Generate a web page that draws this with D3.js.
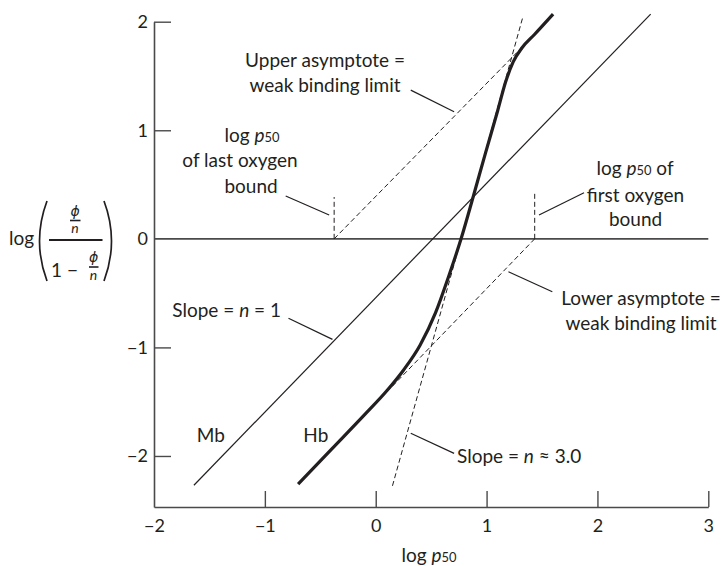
<!DOCTYPE html>
<html>
<head>
<meta charset="utf-8">
<script src="https://cdn.jsdelivr.net/npm/d3@7"></script>
<style>
  html, body { margin: 0; padding: 0; background: #fff; }
  svg { display: block; }
  text { font-family: Lato, "Open Sans", "DejaVu Sans", sans-serif; fill: #231f20; }
</style>
</head>
<body>
<svg id="chart" width="727" height="566"></svg>
<script>
// ---------- data ----------
const xTicks = [-2, -1, 0, 1, 2, 3];
const yTicks = [-2, -1, 0, 1, 2];

// Myoglobin Hill plot (straight line, slope ~1)
const mbX = [-1.64, 2.48];
const mbY = [-2.27, 2.07];

// Hemoglobin Hill plot (sigmoidal)
const hbX = [-0.70, -0.40, -0.10, 0.10, 0.25, 0.40, 0.54, 0.66, 0.77, 0.88, 0.99, 1.10, 1.17, 1.24, 1.32, 1.43, 1.60];
const hbY = [-2.26, -1.94, -1.62, -1.40, -1.21, -0.98, -0.68, -0.34, 0.00, 0.39, 0.79, 1.18, 1.44, 1.63, 1.76, 1.88, 2.07];

// dashed construction lines
const upperAsymX = [-0.375, 1.443];
const upperAsymY = [0, 1.893];
const lowerAsymX = [1.434, 0.12];
const lowerAsymY = [0, -1.39];
const tangentX = [0.151, 1.329];
const tangentY = [-2.275, 2.05];
const lastO2X = [-0.375, -0.375];
const lastO2Y = [0, 0.385];
const firstO2X = [1.434, 1.434];
const firstO2Y = [0, 0.42];

// ---------- layout ----------
const svg = d3.select("#chart");
const x = d3.scaleLinear().domain([-2, 3]).range([154, 708.3]);
const y = d3.scaleLinear().domain([-2.47, 2]).range([507, 21.7]);

const ink = "#231f20";
const axisInk = "#4a4a4a";

const zip = (xs, ys) => xs.map((v, i) => [v, ys[i]]);
const line = d3.line().x(d => x(d[0])).y(d => y(d[1]));
const fmt = d3.format("d");

// ---------- axes ----------
const gx = svg.append("g").attr("transform", `translate(0,${y(-2.47)})`)
  .call(d3.axisBottom(x).tickValues(xTicks).tickFormat(fmt).tickSize(-16).tickSizeOuter(0).tickPadding(12));
const gy = svg.append("g").attr("transform", `translate(${x(-2)},0)`)
  .call(d3.axisLeft(y).tickValues(yTicks).tickFormat(fmt).tickSize(-17).tickSizeOuter(0).tickPadding(6));
[gx, gy].forEach(g => {
  g.select(".domain").attr("stroke", axisInk).attr("stroke-width", 1.6);
  g.selectAll(".tick line").attr("stroke", axisInk).attr("stroke-width", 1.4);
  g.selectAll(".tick text").attr("fill", ink).style("font-size", "18px")
    .style("font-family", "Lato, 'Open Sans', sans-serif");
});
gy.selectAll(".tick").filter(d => d === 0).select("line").remove();
gx.selectAll(".tick").filter(d => d === -2).select("line").remove();

// zero line
svg.append("path").attr("d", line([[-2, 0], [3, 0]]))
  .attr("stroke", axisInk).attr("stroke-width", 1.6).attr("fill", "none");

// ---------- dashed lines ----------
const dashed = [
  zip(upperAsymX, upperAsymY), zip(lowerAsymX, lowerAsymY),
  zip(tangentX, tangentY), zip(lastO2X, lastO2Y), zip(firstO2X, firstO2Y)
];
svg.selectAll(".dash").data(dashed).join("path").attr("class", "dash")
  .attr("d", line).attr("fill", "none").attr("stroke", ink)
  .attr("stroke-width", 1).attr("stroke-dasharray", "5,3");

// ---------- Mb and Hb ----------
svg.append("path").attr("d", line(zip(mbX, mbY)))
  .attr("fill", "none").attr("stroke", ink).attr("stroke-width", 1.2);
const smooth = d3.line().x(d => x(d[0])).y(d => y(d[1])).curve(d3.curveMonotoneX);
svg.append("path").attr("d", smooth(zip(hbX, hbY)))
  .attr("fill", "none").attr("stroke", ink).attr("stroke-width", 3.2)
  .attr("stroke-linecap", "butt");

// ---------- leader lines (data coords) ----------
const leaders = [
  [[0.316, 1.370], [0.707, 1.171]],
  [[-0.812, 0.394], [-0.420, 0.219]],
  [[1.473, 0.219], [1.879, 0.425]],
  [[-0.787, -0.732], [-0.390, -0.926]],
  [[1.197, -0.303], [1.593, -0.487]],
  [[0.316, -1.791], [0.707, -1.976]]
];
svg.selectAll(".leader").data(leaders).join("path").attr("class", "leader")
  .attr("d", line).attr("fill", "none").attr("stroke", ink).attr("stroke-width", 1.2);

// ---------- annotation text ----------
const fs = 19;
function label(px, py, anchor, parts, size) {
  const t = svg.append("text").attr("x", px).attr("y", py)
    .attr("text-anchor", anchor).style("font-size", (size || fs) + "px");
  parts.forEach(p => {
    const s = t.append("tspan").text(p.t);
    if (p.i) s.style("font-style", "italic");
    if (p.sub) s.style("font-size", ((size || fs) * 0.68) + "px");
  });
  return t;
}
const logp = (extra) => [{t: "log "}, {t: "p", i: true}, {t: "50", sub: true}].concat(extra || []);

label(325, 66.7, "middle", [{t: "Upper asymptote ="}]);
label(325, 91.7, "middle", [{t: "weak binding limit"}]);

label(252, 141.7, "middle", logp());
label(240, 166.7, "middle", [{t: "of last oxygen"}]);
label(251, 192.7, "middle", [{t: "bound"}]);

label(635, 175, "middle", logp([{t: " of"}]));
label(635.5, 201.7, "middle", [{t: "first oxygen"}]);
label(635.5, 226, "middle", [{t: "bound"}]);

label(641, 305, "middle", [{t: "Lower asymptote ="}]);
label(641, 330, "middle", [{t: "weak binding limit"}]);

label(281, 316.7, "end", [{t: "Slope = "}, {t: "n", i: true}, {t: " = 1"}]);
label(457, 463.3, "start", [{t: "Slope = "}, {t: "n", i: true}, {t: " ≈ 3.0"}]);

label(196.7, 441.7, "start", [{t: "Mb"}]);
label(303.3, 441.7, "start", [{t: "Hb"}]);

// x-axis title
label(429, 561.7, "middle", logp());

// ---------- y-axis title: log( (φ/n) / (1 − φ/n) ) ----------
const yl = svg.append("g");
yl.append("text").attr("x", 9).attr("y", 245).style("font-size", "19px").text("log");
// parentheses
yl.append("path").attr("d", "M47,201 Q32,241 47,281").attr("fill", "none")
  .attr("stroke", ink).attr("stroke-width", 1.7);
yl.append("path").attr("d", "M104,201 Q119,241 104,281").attr("fill", "none")
  .attr("stroke", ink).attr("stroke-width", 1.7);
// main bar
yl.append("line").attr("x1", 49).attr("x2", 102.5).attr("y1", 240).attr("y2", 240)
  .attr("stroke", ink).attr("stroke-width", 1.8);
const fracFont = "14px";
const phiFont = "'DejaVu Sans', Lato, sans-serif";
// numerator φ/n
yl.append("text").attr("x", 75).attr("y", 216).attr("text-anchor", "middle")
  .style("font-size", fracFont).style("font-style", "italic").style("font-family", phiFont).text("ϕ");
yl.append("line").attr("x1", 70).attr("x2", 80.5).attr("y1", 220.5).attr("y2", 220.5)
  .attr("stroke", ink).attr("stroke-width", 1.6);
yl.append("text").attr("x", 75).attr("y", 233).attr("text-anchor", "middle")
  .style("font-size", fracFont).style("font-style", "italic").text("n");
// denominator 1 − φ/n
yl.append("text").attr("x", 51).attr("y", 276.5).style("font-size", "19px").text("1 −");
yl.append("text").attr("x", 93.5).attr("y", 262).attr("text-anchor", "middle")
  .style("font-size", fracFont).style("font-style", "italic").style("font-family", phiFont).text("ϕ");
yl.append("line").attr("x1", 89).attr("x2", 98.5).attr("y1", 267).attr("y2", 267)
  .attr("stroke", ink).attr("stroke-width", 1.6);
yl.append("text").attr("x", 93.5).attr("y", 280).attr("text-anchor", "middle")
  .style("font-size", fracFont).style("font-style", "italic").text("n");
</script>
</body>
</html>
